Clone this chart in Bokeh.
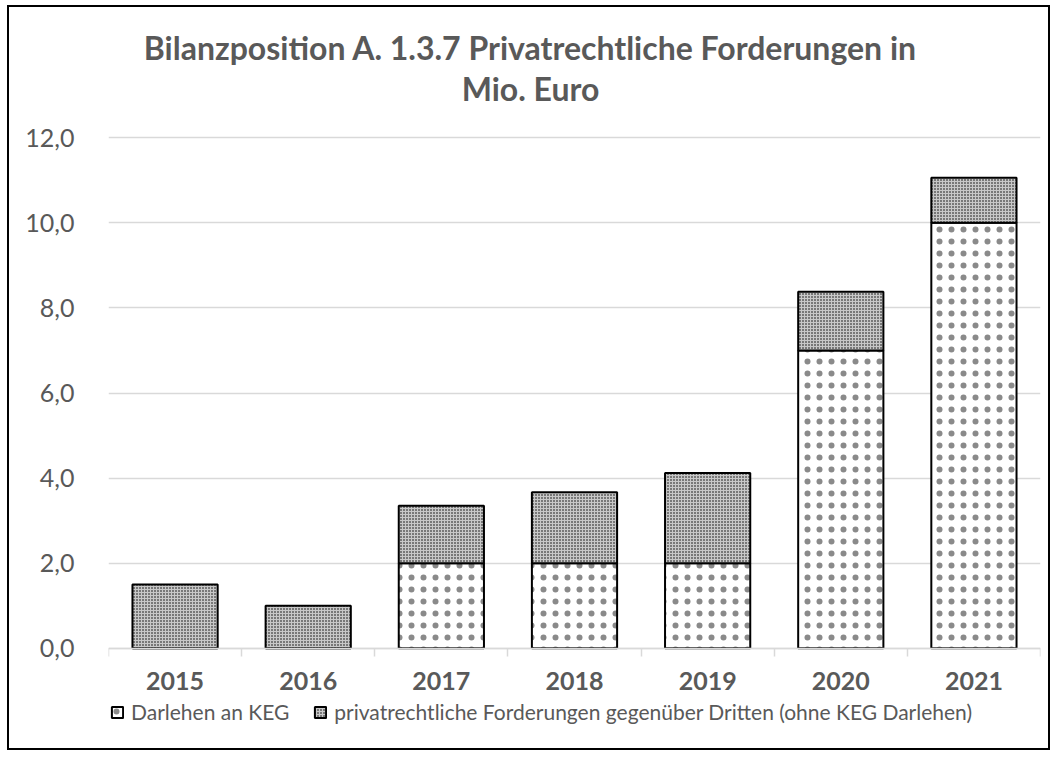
from bokeh.plotting import figure
from bokeh.models import ColumnDataSource, Range1d, FixedTicker, Label, Legend, LegendItem
from bokeh.embed import file_html
from bokeh.resources import INLINE

years = ["2015", "2016", "2017", "2018", "2019", "2020", "2021"]
darlehen = [0.0, 0.0, 2.0, 2.0, 2.0, 7.0, 10.0]
dritte = [1.5, 1.0, 1.35, 1.67, 2.12, 1.38, 1.06]
y_ticks = [0, 2, 4, 6, 8, 10, 12]
y_labels = ["0,0", "2,0", "4,0", "6,0", "8,0", "10,0", "12,0"]
series_names = ["Darlehen an KEG", "privatrechtliche Forderungen gegenüber Dritten (ohne KEG Darlehen)"]
title_lines = ["Bilanzposition A. 1.3.7 Privatrechtliche Forderungen in", "Mio. Euro"]

FONT = "Lato"
TXT = "#595959"

# layout (pixels)
W, H = 1043, 745
TOP, BOTTOM_PAD, LEFT, RIGHT = 15, 14, 99, 12
PX_PER_UNIT = 42.5          # frame pixels per y unit (0..12 spans 510 px)
PX_PER_CAT = 133.14         # frame pixels per category
ZERO_FROM_BOTTOM = 90       # pixels between the y=0 axis and the frame bottom
ABOVE_TOP = 115             # pixels between the y=12 gridline and the frame top
TITLE_OFFSETS = [90, 49]    # pixels above the y=12 gridline for each title line
TITLE_SHIFT = -44           # title centre relative to frame centre, pixels
Y_TOP_TICK = y_ticks[-1]
y_min = -ZERO_FROM_BOTTOM / PX_PER_UNIT
y_max = Y_TOP_TICK + ABOVE_TOP / PX_PER_UNIT

xs = [i + 0.5 for i in range(len(years))]
tops = [a + b for a, b in zip(darlehen, dritte)]
src = ColumnDataSource(dict(x=xs, d=darlehen, t=tops, z=[0] * len(years)))

p = figure(width=W, height=H, output_backend="svg", toolbar_location=None,
           x_range=Range1d(0, len(years)), y_range=Range1d(y_min, y_max),
           min_border_left=LEFT, min_border_right=RIGHT, min_border_top=TOP,
           min_border_bottom=BOTTOM_PAD)
p.styles = {"border": "2px solid black", "margin-left": "7px", "margin-top": "5px"}
p.outline_line_color = None

r1 = p.vbar(x="x", bottom="z", top="d", width=0.64, source=src, fill_color="white",
            line_color="black", line_width=2, hatch_pattern="dot", hatch_scale=12,
            hatch_weight=0.3, hatch_color="#8a8a8a")
r2 = p.vbar(x="x", bottom="d", top="t", width=0.64, source=src, fill_color="#c8c8c8",
            line_color="black", line_width=2, hatch_pattern="dot", hatch_scale=3,
            hatch_weight=1.0, hatch_color="#000000")

# title (two centred lines)
title_x = len(years) / 2 + TITLE_SHIFT / PX_PER_CAT
for line, off in zip(title_lines, TITLE_OFFSETS):
    p.add_layout(Label(x=title_x, y=Y_TOP_TICK + off / PX_PER_UNIT, text=line,
                       text_align="center", text_baseline="middle", text_font=FONT,
                       text_font_size="32px", text_font_style="bold", text_color=TXT))

# y axis
p.yaxis.ticker = FixedTicker(ticks=y_ticks)
p.yaxis.major_label_overrides = {t: l for t, l in zip(y_ticks, y_labels)}
p.yaxis.axis_line_color = None
p.yaxis.major_tick_line_color = None
p.yaxis.minor_tick_line_color = None
p.yaxis.major_label_text_font = FONT
p.yaxis.major_label_text_font_size = "25px"
p.yaxis.major_label_text_color = TXT
p.yaxis.major_label_standoff = 28
p.ygrid.ticker = FixedTicker(ticks=y_ticks)
p.ygrid.grid_line_color = "#d9d9d9"
p.ygrid.grid_line_width = 1.5
p.xgrid.grid_line_color = None

# x axis (at y = 0, inside the frame)
p.xaxis.fixed_location = 0
p.xaxis.ticker = FixedTicker(ticks=xs, minor_ticks=list(range(len(years) + 1)))
p.xaxis.major_label_overrides = {x: y for x, y in zip(xs, years)}
p.xaxis.axis_line_color = "#d9d9d9"
p.xaxis.axis_line_width = 1.5
p.xaxis.major_tick_line_color = None
p.xaxis.major_tick_out = 0
p.xaxis.major_tick_in = 0
p.xaxis.minor_tick_line_color = "#d9d9d9"
p.xaxis.minor_tick_line_width = 1.5
p.xaxis.minor_tick_out = 8
p.xaxis.minor_tick_in = 0
p.xaxis.major_label_text_font = FONT
p.xaxis.major_label_text_font_size = "25px"
p.xaxis.major_label_text_font_style = "bold"
p.xaxis.major_label_text_color = TXT
p.xaxis.major_label_standoff = 16

legend = Legend(items=[LegendItem(label=series_names[0], renderers=[r1]),
                       LegendItem(label=series_names[1], renderers=[r2])],
                orientation="horizontal", location=(2, 14),
                label_text_font=FONT, label_text_font_size="21px", label_text_color=TXT,
                glyph_width=14, glyph_height=14, spacing=24, label_standoff=7,
                border_line_color=None, background_fill_alpha=0, padding=0, margin=0)
p.add_layout(legend, "center")

open("out.html", "w").write(file_html(p, INLINE))
